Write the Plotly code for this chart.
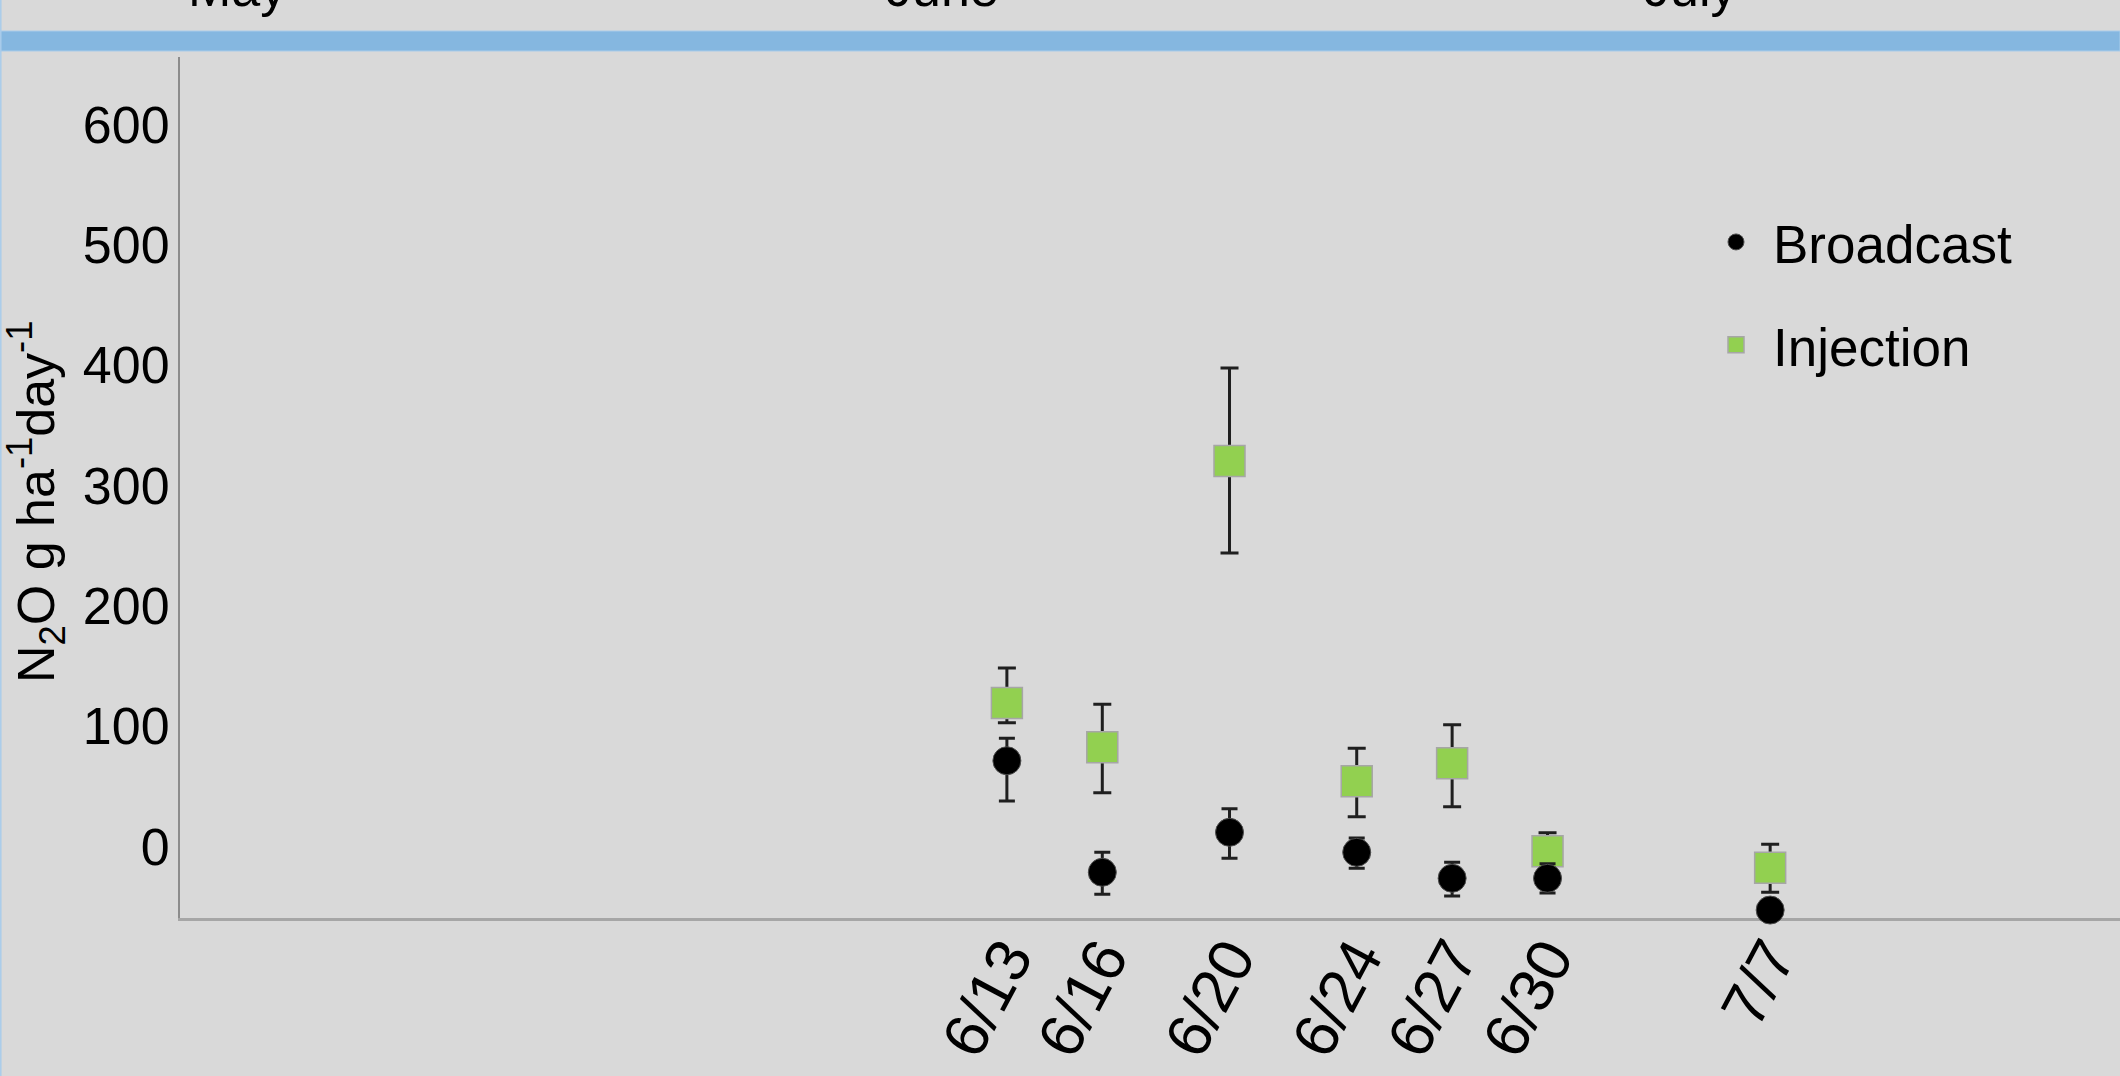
import plotly.graph_objects as go

# ---------------- data ----------------
dates = ["2014-06-13", "2014-06-16", "2014-06-20", "2014-06-24",
         "2014-06-27", "2014-06-30", "2014-07-07"]
date_labels = ["6/13", "6/16", "6/20", "6/24", "6/27", "6/30", "7/7"]

broadcast = [71.2, -21.5, 11.7, -4.9, -26.5, -26.5, -52.9]
broadcast_err_plus = [18.6, 16.6, 19.6, 11.9, 13.3, 12.0, 6.0]
broadcast_err_minus = [33.5, 18.3, 21.6, 13.3, 14.7, 12.2, 6.0]

injection = [119.2, 82.4, 320.3, 54.2, 69.1, -4.1, -17.7]
injection_err_plus = [29.1, 35.7, 77.3, 27.3, 32.0, 15.5, 19.4]
injection_err_minus = [16.4, 37.8, 76.4, 29.5, 36.1, 15.5, 20.4]

y_ticks = [0, 100, 200, 300, 400, 500, 600]
y_tick_labels = ["0", "100", "200", "300", "400", "500", "600"]

months = ["May", "June", "July"]
y_title = "N<sub>2</sub>O g ha<sup>-1</sup>day<sup>-1</sup>"

# ---------------- figure ----------------
FONT = "Liberation Sans, Arial, sans-serif"
BG = "#D9D9D9"

fig = go.Figure()

fig.add_trace(go.Scatter(
    x=dates, y=injection, mode="markers", name="Injection",
    legendgroup="inj", legendrank=2, cliponaxis=False,
    marker=dict(symbol="square", size=31, color="#92D050",
                line=dict(color="#A6A6A6", width=1.5)),
    error_y=dict(type="data", symmetric=False,
                 array=injection_err_plus, arrayminus=injection_err_minus,
                 color="#1F1F1F", thickness=3, width=9),
))

fig.add_trace(go.Scatter(
    x=dates, y=broadcast, mode="markers", name="Broadcast",
    legendgroup="bc", legendrank=1, cliponaxis=False,
    marker=dict(symbol="circle", size=28, color="#000000",
                line=dict(color="#4D4D4D", width=1)),
    error_y=dict(type="data", symmetric=False,
                 array=broadcast_err_plus, arrayminus=broadcast_err_minus,
                 color="#1F1F1F", thickness=3, width=8),
))

L, R, T, B = 180, 0, 57, 158
W, H = 2120, 1076
pw, ph = W - L - R, H - T - B

def px_x(p):
    return (p - L) / pw

def px_y(p):
    return (H - B - p) / ph

shapes = [
    dict(type="rect", xref="paper", yref="paper",
         x0=px_x(0), x1=1, y0=px_y(51), y1=px_y(31),
         fillcolor="#85B7E0", line=dict(color="#A9CCEA", width=1), layer="above"),
    dict(type="line", xref="paper", yref="paper",
         x0=px_x(0.8), x1=px_x(0.8), y0=px_y(H), y1=px_y(0),
         line=dict(color="#A9CCEA", width=1.5)),
]

month_x = [237, 942, 1690]
annotations = [
    dict(text=m, xref="paper", yref="paper", x=px_x(mx), y=px_y(-12),
         xanchor="center", yanchor="middle", showarrow=False,
         font=dict(family=FONT, size=52, color="#000000"))
    for m, mx in zip(months, month_x)
]
annotations.append(dict(
    text=y_title, xref="paper", yref="paper", x=px_x(36), y=px_y(502),
    xanchor="center", yanchor="middle", textangle=-90, showarrow=False,
    font=dict(family=FONT, size=52, color="#000000")))

fig.update_layout(
    width=W, height=H, autosize=False,
    margin=dict(l=L, r=R, t=T, b=B, pad=0),
    paper_bgcolor=BG, plot_bgcolor=BG,
    font=dict(family=FONT, size=52, color="#000000"),
    shapes=shapes, annotations=annotations,
    showlegend=True,
    legend=dict(x=px_x(1699), y=px_y(201), xanchor="left", yanchor="top",
                bgcolor="rgba(0,0,0,0)", font=dict(family=FONT, size=53),
                itemwidth=64, tracegroupgap=31, traceorder="grouped"),
    xaxis=dict(
        type="date", range=["2014-05-18", "2014-07-18"],
        tickvals=dates, ticktext=date_labels, tickangle=-62,
        showgrid=False, zeroline=False, ticks="",
        showline=True, linecolor="#A6A6A6", linewidth=3,
        layer="below traces", ticklabelstandoff=-24,
        tickfont=dict(family=FONT, size=62, color="#000000"),
    ),
    yaxis=dict(
        range=[-59.5, 656.1],
        tickvals=y_ticks, ticktext=y_tick_labels,
        showgrid=False, zeroline=False, ticks="",
        showline=True, linecolor="#8C8C8C", linewidth=2,
        layer="below traces", ticklabelstandoff=-2,
        tickfont=dict(family=FONT, size=52, color="#000000"),
    ),
)

fig.write_html("out.html")
